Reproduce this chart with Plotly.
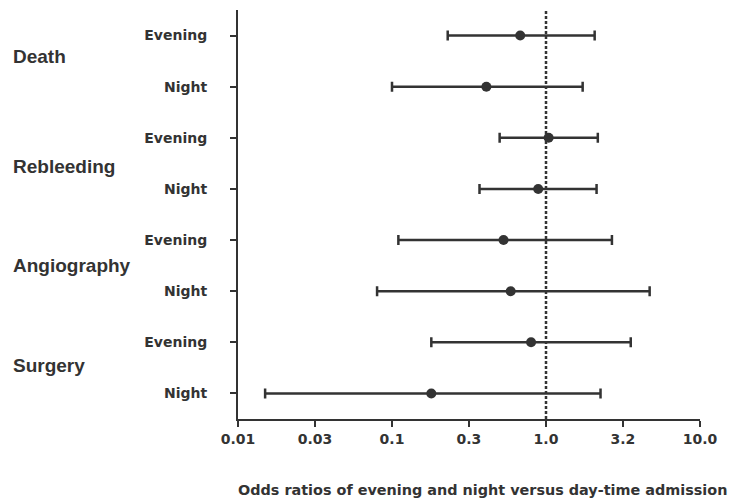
import numpy as np
import plotly.graph_objects as go

# Outcomes and admission periods, top to bottom
groups = ["Death", "Rebleeding", "Angiography", "Surgery"]
periods = ["Evening", "Night"]

# Odds ratios with 95% confidence limits, one entry per row (top to bottom)
odds_ratio = [0.68, 0.41, 1.04, 0.89, 0.53, 0.59, 0.80, 0.18]
ci_lower = [0.23, 0.10, 0.50, 0.37, 0.11, 0.08, 0.18, 0.015]
ci_upper = [2.07, 1.73, 2.17, 2.13, 2.68, 4.71, 3.55, 2.26]

# Log-scale ticks and their printed labels
tick_values = [0.01, 0.0316, 0.1, 0.316, 1.0, 3.16, 10.0]
tick_labels = ["0.01", "0.03", "0.1", "0.3", "1.0", "3.2", "10.0"]

axis_title = "Odds ratios of evening and night versus day-time admission"

ink = "#333333"
label_font = "Liberation Sans, Arial, sans-serif"
wide_font = "DejaVu Sans, Verdana, sans-serif"

rows = list(range(len(odds_ratio)))
row_labels = [p for _ in groups for p in periods]

or_arr = np.array(odds_ratio)
err_plus = np.array(ci_upper) - or_arr
err_minus = or_arr - np.array(ci_lower)

fig = go.Figure()
fig.add_trace(go.Scatter(
    x=odds_ratio,
    y=rows,
    mode="markers",
    marker=dict(color=ink, size=10, symbol="circle"),
    error_x=dict(
        type="data",
        symmetric=False,
        array=err_plus,
        arrayminus=err_minus,
        color=ink,
        thickness=2.5,
        width=5,
    ),
    showlegend=False,
    hoverinfo="skip",
))

# Reference line at OR = 1
fig.add_shape(
    type="line", xref="x", yref="paper",
    x0=1.0, x1=1.0, y0=0, y1=1,
    line=dict(color=ink, width=2.5, dash="3px,2px"),
    layer="below",
)

# Outcome names to the left of each pair of rows
group_shift = [5, -3, 0, 2]
for i, g in enumerate(groups):
    fig.add_annotation(
        text="<b>%s</b>" % g,
        xref="paper", yref="y",
        x=-227 / 462, y=2 * i + 0.5,
        xanchor="left", yanchor="middle",
        yshift=group_shift[i],
        showarrow=False,
        font=dict(family=label_font, size=19, color=ink),
    )

fig.add_annotation(
    text="<b>%s</b>" % axis_title,
    xref="paper", yref="paper",
    x=0.529, y=-0.1736,
    xanchor="center", yanchor="middle",
    showarrow=False,
    font=dict(family=wide_font, size=14.4, color=ink),
)

fig.update_xaxes(
    type="log",
    range=[-2, 1],
    tickmode="array",
    tickvals=tick_values,
    ticktext=["<b>%s</b>" % t for t in tick_labels],
    ticks="outside",
    ticklen=6,
    tickwidth=2,
    tickcolor=ink,
    showline=True,
    linecolor=ink,
    linewidth=2,
    showgrid=False,
    zeroline=False,
    tickfont=dict(family=wide_font, size=14, color=ink),
)

fig.update_yaxes(
    range=[7.5, -0.5],
    tickmode="array",
    tickvals=rows,
    ticktext=["<b>%s</b>" % t for t in row_labels],
    ticks="outside",
    ticklen=6,
    tickwidth=2,
    tickcolor=ink,
    ticklabelstandoff=20,
    showline=True,
    linecolor=ink,
    linewidth=2,
    showgrid=False,
    zeroline=False,
    tickfont=dict(family=wide_font, size=14, color=ink),
)

fig.update_layout(
    width=730,
    height=500,
    margin=dict(l=238, r=30, t=10, b=81),
    paper_bgcolor="white",
    plot_bgcolor="white",
)

fig.write_html("out.html")
